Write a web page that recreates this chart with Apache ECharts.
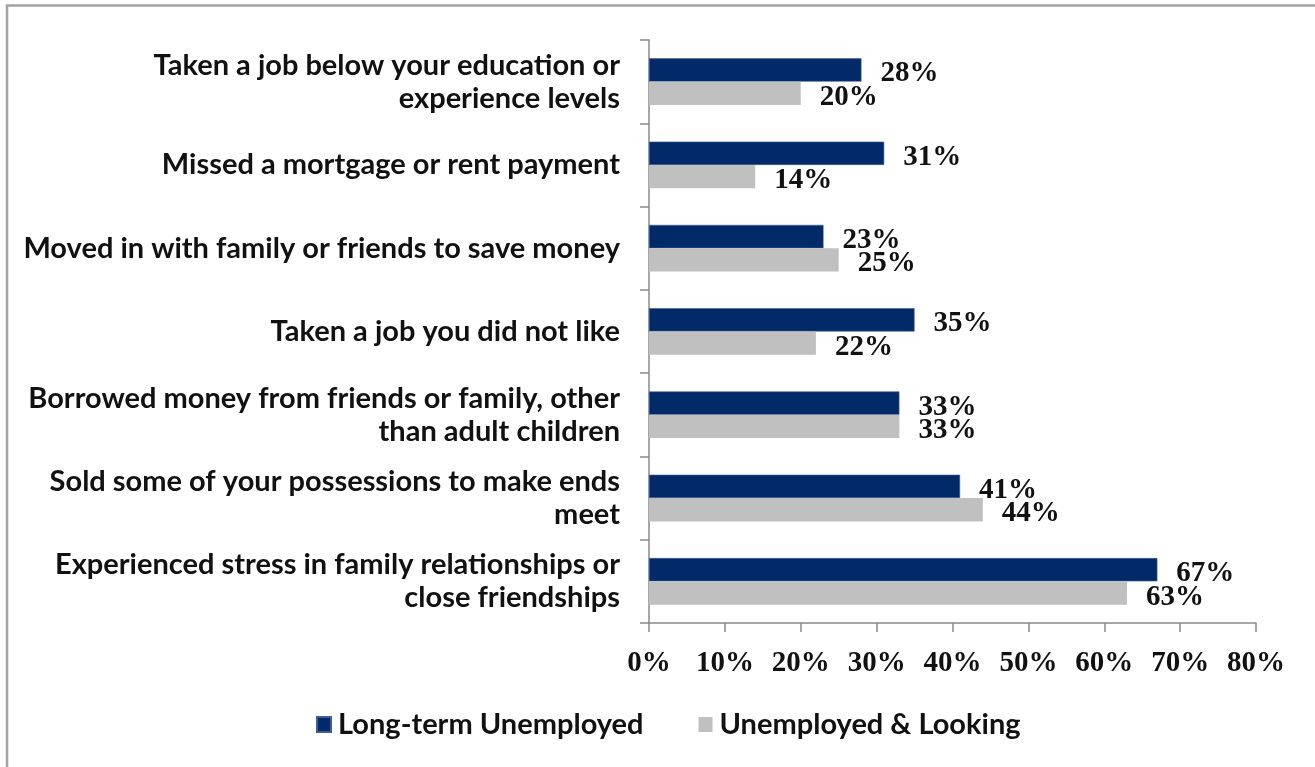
<!DOCTYPE html>
<html>
<head>
<meta charset="utf-8">
<script src="https://cdn.jsdelivr.net/npm/echarts@6/dist/echarts.min.js"></script>
<style>
  html, body { margin: 0; padding: 0; background: #ffffff; }
  #chart { width: 1315px; height: 767px; }
</style>
</head>
<body>
<div id="chart"></div>
<script>
// Survey items, listed top to bottom
const categories = [
  'Taken a job below your education or\nexperience levels',
  'Missed a mortgage or rent payment',
  'Moved in with family or friends to save money',
  'Taken a job you did not like',
  'Borrowed money from friends or family, other\nthan adult children',
  'Sold some of your possessions to make ends\nmeet',
  'Experienced stress in family relationships or\nclose friendships'
];

// Share of respondents (%)
const longTermUnemployed = [28, 31, 23, 35, 33, 41, 67];
const unemployedLooking  = [20, 14, 25, 22, 33, 44, 63];

const seriesNames = ['Long-term Unemployed', 'Unemployed & Looking'];

// Value axis ticks: 0% .. 80% in steps of 10
const axisMin = 0;
const axisMax = 80;
const axisStep = 10;

const NAVY = '#022a68';
const GREY = '#c0c0c0';
const AXIS = '#8a8a8a';
const LABEL_FONT = 'Lato, "Open Sans", sans-serif';
const VALUE_FONT = '"Liberation Serif", "DejaVu Serif", serif';

const chart = echarts.init(document.getElementById('chart'), null, { renderer: 'canvas' });

const valueLabel = {
  show: true,
  position: 'right',
  distance: 19,
  offset: [0, 4],
  formatter: '{c}%',
  color: '#111',
  fontFamily: VALUE_FONT,
  fontWeight: 'bold',
  fontSize: 29
};

chart.setOption({
  backgroundColor: '#ffffff',
  animation: false,
  graphic: [{
    type: 'rect',
    shape: { x: 7, y: 5.5, width: 1400, height: 900 },
    style: { fill: 'none', stroke: '#a3a3a3', lineWidth: 2.5 },
    silent: true
  }],
  grid: { left: 649, right: 59, top: 40, bottom: 144, containLabel: false },
  legend: {
    data: seriesNames,
    left: 316,
    top: 710,
    padding: 0,
    itemWidth: 14,
    itemHeight: 15,
    itemGap: 55,
    icon: 'rect',
    textStyle: {
      fontFamily: LABEL_FONT,
      fontWeight: 'bold',
      fontSize: 29,
      color: '#111',
      padding: [0, 0, 0, 2]
    }
  },
  xAxis: {
    type: 'value',
    min: axisMin,
    max: axisMax,
    interval: axisStep,
    splitLine: { show: false },
    axisLine: { show: true, lineStyle: { color: AXIS, width: 1.5 } },
    axisTick: { show: true, length: 9, lineStyle: { color: AXIS, width: 1.5 } },
    axisLabel: {
      formatter: '{value}%',
      margin: 26,
      color: '#111',
      fontFamily: VALUE_FONT,
      fontWeight: 'bold',
      fontSize: 29
    }
  },
  yAxis: {
    type: 'category',
    data: categories,
    inverse: true,
    axisLine: { show: true, lineStyle: { color: AXIS, width: 1.5 } },
    axisTick: { show: true, length: 9, lineStyle: { color: AXIS, width: 1.5 } },
    axisLabel: {
      margin: 29,
      align: 'right',
      color: '#111',
      fontFamily: LABEL_FONT,
      fontWeight: 'bold',
      fontSize: 29,
      lineHeight: 33,
      padding: [12, 0, 0, 0]
    }
  },
  series: [
    {
      name: seriesNames[0],
      type: 'bar',
      data: longTermUnemployed,
      barCategoryGap: '44%',
      barGap: '0%',
      itemStyle: { color: NAVY, borderColor: '#3d5f96', borderWidth: 0.6 },
      label: valueLabel
    },
    {
      name: seriesNames[1],
      type: 'bar',
      data: unemployedLooking,
      barCategoryGap: '44%',
      barGap: '0%',
      itemStyle: { color: GREY },
      label: valueLabel
    }
  ]
});
</script>
</body>
</html>
